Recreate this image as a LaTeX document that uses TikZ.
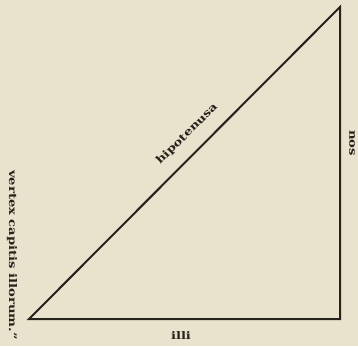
\documentclass[tikz,border=0pt]{standalone}
\usepackage{fontspec}
\setmainfont{DejaVu Serif}
\newfontfamily\widefam{DejaVu Serif}[FakeStretch=1.25]
\definecolor{paper}{RGB}{233,226,205}
\definecolor{ink}{RGB}{38,34,28}
\begin{document}
\begin{tikzpicture}[x=1pt,y=-1pt,
  edge/.style={draw=ink,line width=2pt,line join=miter},
  lbl/.style={text=ink,inner sep=0pt,font=\widefam\bfseries\fontsize{10.5}{10.5}\selectfont},
  hyp/.style={text=ink,inner sep=0pt,font=\widefam\bfseries\fontsize{10.5}{10.5}\selectfont}]
\fill[paper] (0,0) rectangle (358,346);
\useasboundingbox (0,0) rectangle (358,346);
\coordinate (A) at (29,319);
\coordinate (B) at (340,319);
\coordinate (C) at (340,7);
\draw[edge] (A) -- (B) -- (C) -- cycle;
\node[hyp,rotate=45] (h) at (187,134) {hipotenusa};
\node[lbl,rotate=-90] (n) at (352,143) {nos};
\node[lbl] (i) at (181,336) {illi};
\node[lbl,rotate=-90] (v) at (12,255) {vertex capitis illorum.”};
\end{tikzpicture}
\end{document}
